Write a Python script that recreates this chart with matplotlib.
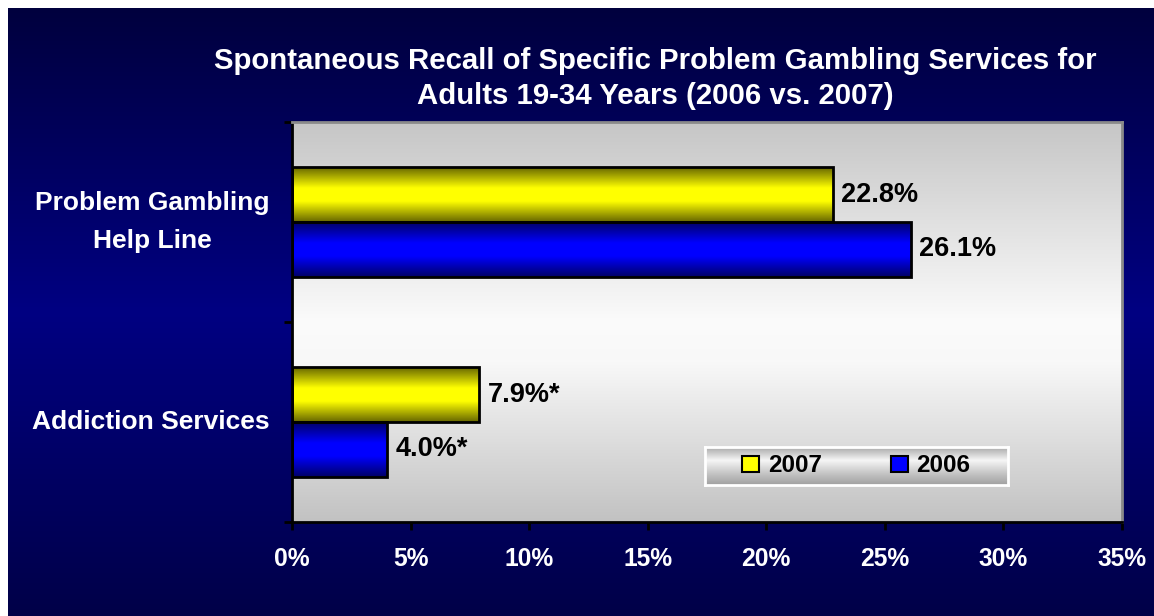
import numpy as np
import matplotlib.pyplot as plt
from matplotlib.colors import LinearSegmentedColormap
from matplotlib.patches import Patch

categories = ["Problem Gambling\nHelp Line", "Addiction Services"]
values_2007 = [22.8, 7.9]
values_2006 = [26.1, 4.0]
labels_2007 = ["22.8%", "7.9%*"]
labels_2006 = ["26.1%", "4.0%*"]
xticks = [0, 5, 10, 15, 20, 25, 30, 35]
title = ("Spontaneous Recall of Specific Problem Gambling Services for\n"
         "Adults 19-34 Years (2006 vs. 2007)")

plt.rcParams['font.family'] = ['Liberation Sans', 'DejaVu Sans']
plt.rcParams['font.weight'] = 'bold'

W, H = 1154, 616
fig = plt.figure(figsize=(W / 100, H / 100), dpi=100)
fig.patch.set_facecolor('white')

grad = np.linspace(0, 1, 256).reshape(-1, 1)

# navy slide background
bg = fig.add_axes([8 / W, 0, 1 - 8 / W, 1 - 8 / H], zorder=-5)
navy = LinearSegmentedColormap.from_list('navy', ['#00003e', '#000082', '#000048'])
bg.imshow(grad, cmap=navy, aspect='auto', extent=[0, 1, 0, 1])
bg.axis('off')

ax = fig.add_axes([292 / W, 1 - 522 / H, 830 / W, 400 / H])
gray = LinearSegmentedColormap.from_list(
    'gray', [(0, '#c6c6c6'), (0.5, '#fbfbfb'), (0.6, '#f8f8f8'), (1, '#c2c2c2')])
ax.imshow(grad, cmap=gray, aspect='auto', extent=[0, 35, 2, 0], zorder=0)

yellow = LinearSegmentedColormap.from_list(
    'yel', [(0, '#666600'), (0.38, '#ffff00'), (0.62, '#ffff00'), (1, '#666600')])
blue = LinearSegmentedColormap.from_list(
    'blu', [(0, '#000066'), (0.38, '#0000ff'), (0.62, '#0000ff'), (1, '#000066')])

h = 0.275
y = np.array([0.5, 1.5])
bars07 = ax.barh(y - h / 2, values_2007, height=h, facecolor='none',
                 edgecolor='black', linewidth=2, zorder=3)
bars06 = ax.barh(y + h / 2, values_2006, height=h, facecolor='none',
                 edgecolor='black', linewidth=2, zorder=3)

for bars, cmap, labels in [(bars07, yellow, labels_2007), (bars06, blue, labels_2006)]:
    for b, lab in zip(bars, labels):
        x0, y0, bw, bh = b.get_x(), b.get_y(), b.get_width(), b.get_height()
        ax.imshow(grad, cmap=cmap, aspect='auto',
                  extent=[x0, x0 + bw, y0 + bh, y0], zorder=2)
        ax.text(x0 + bw + 0.35, y0 + bh / 2, lab, va='center', ha='left',
                fontsize=19.5, fontweight='bold', color='black', zorder=4)

ax.set_xlim(0, 35)
ax.set_ylim(2, 0)
ax.set_aspect('auto')

ax.set_xticks(xticks)
ax.set_xticklabels([f"{t}%" for t in xticks], fontsize=17.7, fontweight='bold')
ax.tick_params(axis='x', direction='out', length=6, width=2, pad=12,
               color='black', labelcolor='white')

ax.set_yticks(y)
ax.set_yticklabels(categories, fontsize=19, fontweight='bold', color='white')
ax.set_yticks([0, 1, 2], minor=True)
ax.tick_params(axis='y', which='major', length=0, pad=16)
ax.tick_params(axis='y', which='minor', direction='out', length=6, width=2, color='black')
for lab in ax.get_yticklabels():
    lab.set_multialignment('center')
    lab.set_linespacing(1.7)
    lab.set_verticalalignment('center')

for s in ['left', 'bottom']:
    ax.spines[s].set_color('black')
    ax.spines[s].set_linewidth(2)
for s in ['top', 'right']:
    ax.spines[s].set_color('#8a8a8a')
    ax.spines[s].set_linewidth(2)

# legend box with gradient
lbox = ax.inset_axes([0.4976, 0.0925, 0.3651, 0.095], zorder=5)
lgray = LinearSegmentedColormap.from_list(
    'lg', [(0, '#a8a8a8'), (0.35, '#f6f6f6'), (0.7, '#c4c4c4'), (1, '#a0a0a0')])
lbox.imshow(grad, cmap=lgray, aspect='auto', extent=[0, 1, 0, 1])
lbox.set_xticks([])
lbox.set_yticks([])
for s in lbox.spines.values():
    s.set_color('white')
    s.set_linewidth(2)

handles = [Patch(facecolor='#ffff00', edgecolor='black', linewidth=1.5, label='2007'),
           Patch(facecolor='#0000ff', edgecolor='black', linewidth=1.5, label='2006')]
leg = ax.legend(handles=handles, loc='center', bbox_to_anchor=(0.680, 0.14),
                ncol=2, frameon=False, prop={'size': 17.5, 'weight': 'bold'},
                handlelength=0.68, handleheight=0.68, handletextpad=0.37,
                columnspacing=2.85)
leg.set_zorder(6)

fig.text(655 / W, 1 - 78.5 / H, title, ha='center', va='center', fontsize=21.2,
         fontweight='bold', color='white', linespacing=1.35)

fig.savefig('out.png', dpi=100, facecolor=fig.get_facecolor())
